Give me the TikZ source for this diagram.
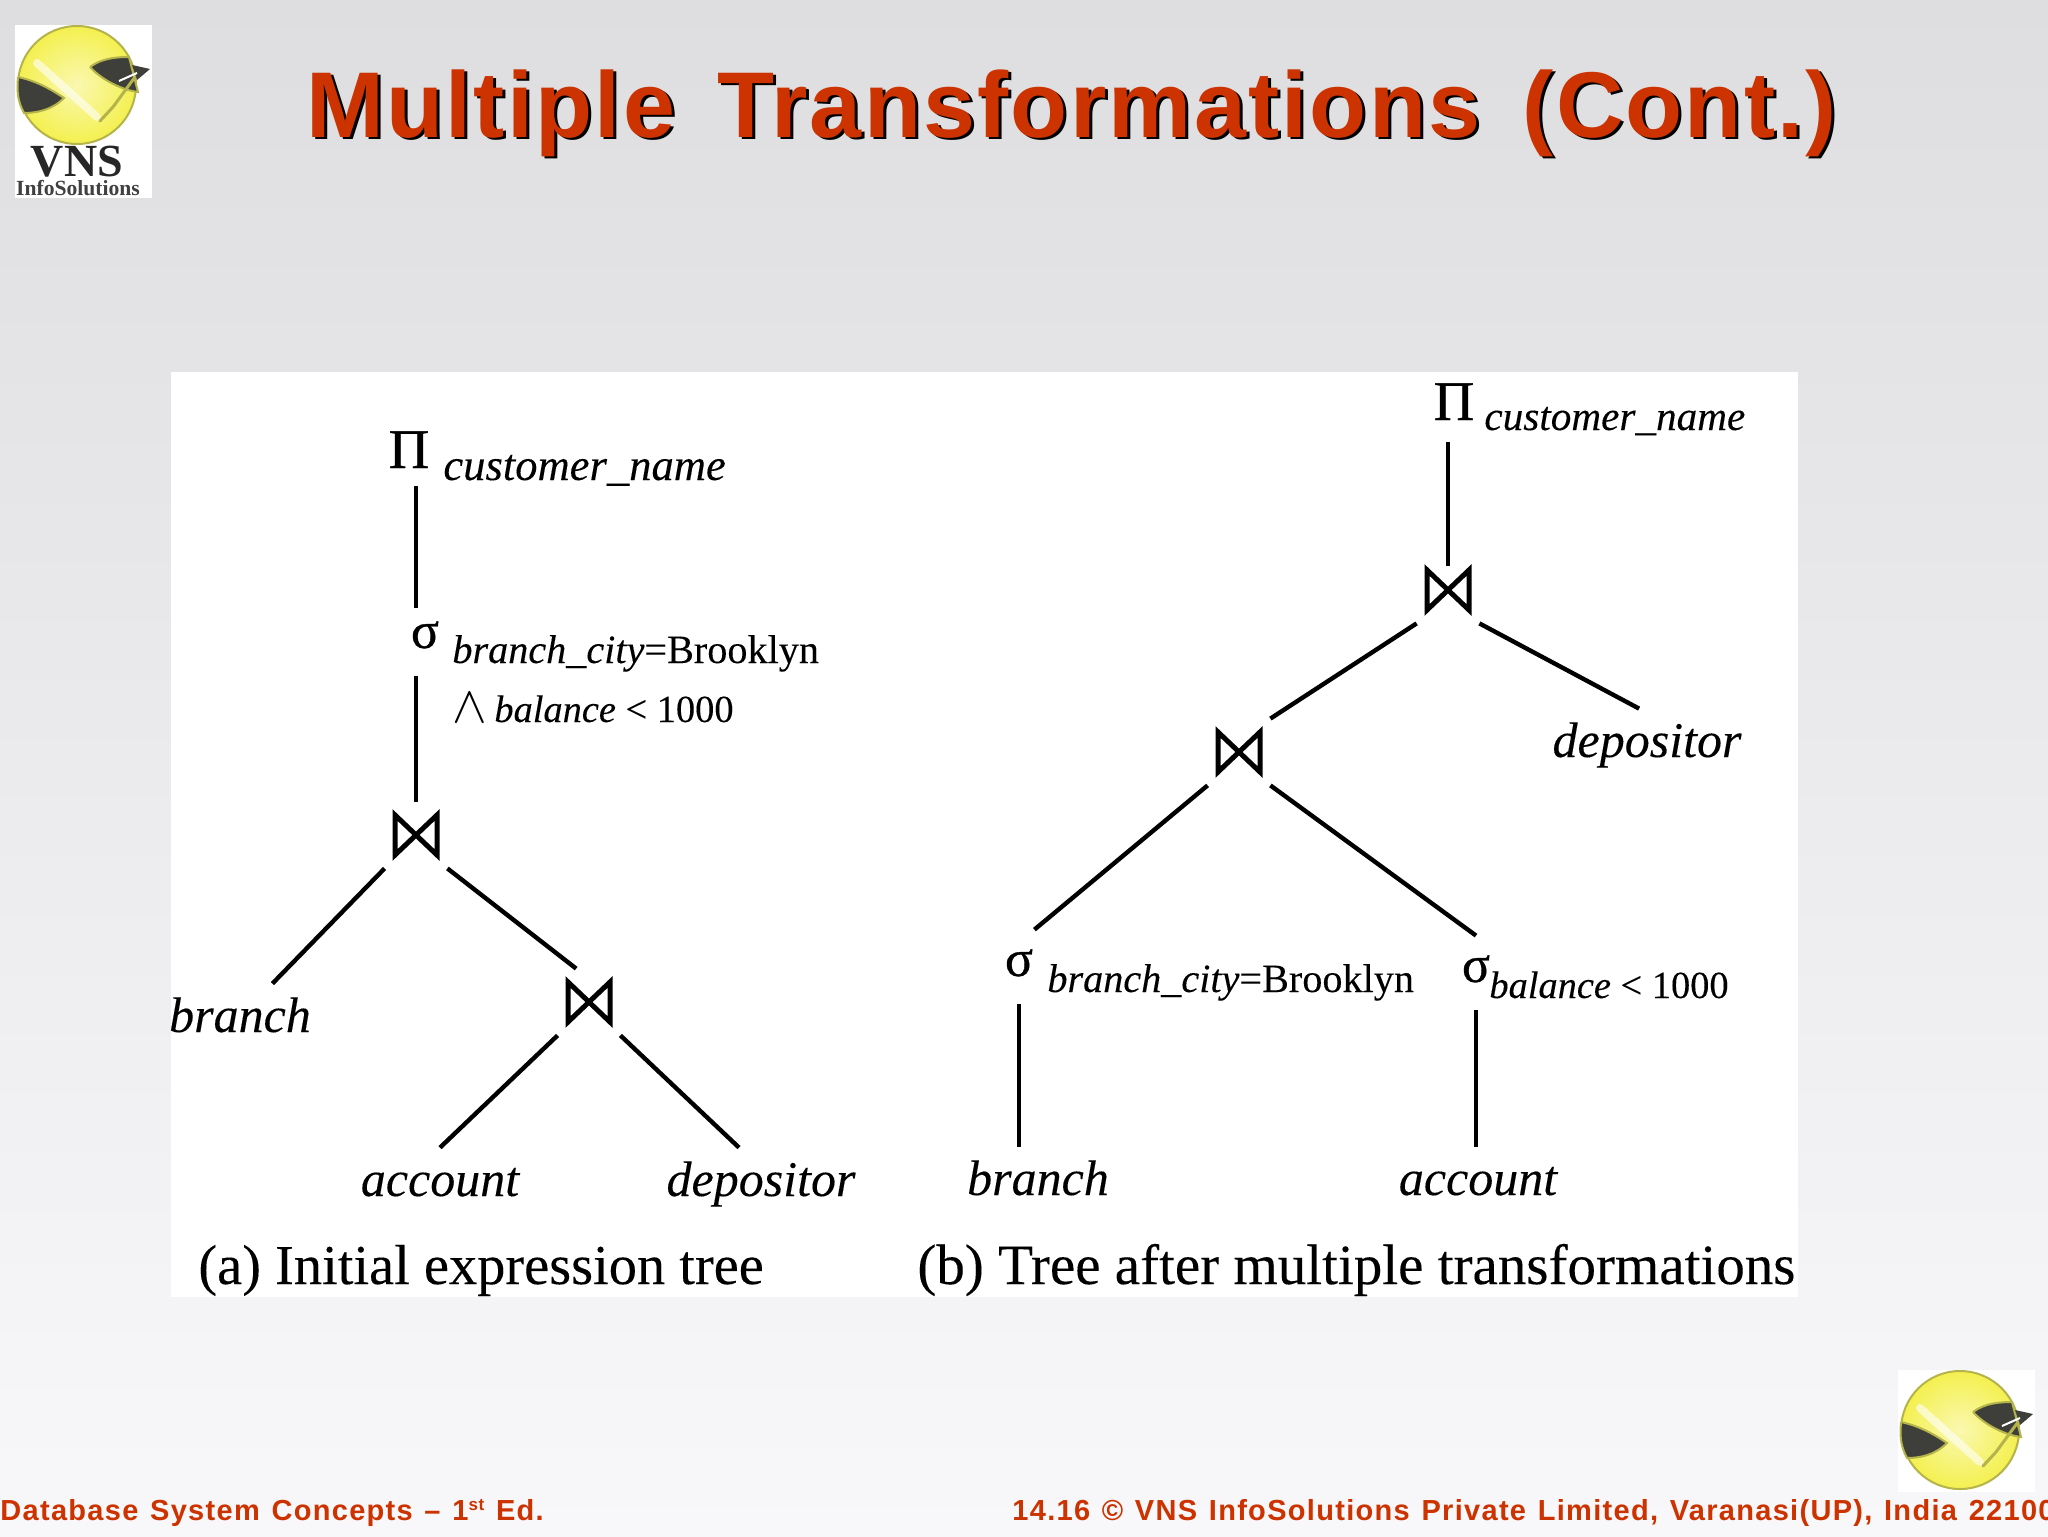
\documentclass[tikz,border=0pt]{standalone}
\usepackage{fix-cm}
\usepackage[no-math]{fontspec}
\usepackage{tikz}
\usetikzlibrary{calc}
\newfontfamily\labelfont{Liberation Serif}[FakeBold=0.15]
\newfontfamily\symbfont{Liberation Serif}
\newfontfamily\opfont{Liberation Serif}[FakeBold=0.6]
\newfontfamily\titlefont{Liberation Sans}[LetterSpace=2.4,WordSpace=1.5]
\newfontfamily\footfont{Liberation Sans}[LetterSpace=4.5,WordSpace=1.25]
\definecolor{slidered}{HTML}{CC3300}
\definecolor{slidetop}{HTML}{DEDEE0}
\definecolor{slidebottom}{HTML}{F8F8FA}
\definecolor{logoyellow}{HTML}{F4F050}
\definecolor{logodark}{HTML}{3E3E3A}
\definecolor{logoolive}{HTML}{B5B44A}
\tikzset{
  treeline/.style={line width=2.2pt},
  joinop/.style={inner sep=0pt,minimum width=31pt,minimum height=33pt,
    path picture={\draw[line width=2.5pt,shift={(path picture bounding box.center)}]
      (-21,-20)--(21,20)--(21,-20)--(-21,20)--cycle;}},
  piop/.style={anchor=base,inner sep=0pt,text height=18pt,text depth=9pt,
    font=\opfont\fontsize{28}{30}\selectfont},
  sigop/.style={anchor=base,inner sep=0pt,minimum width=15pt,text height=23pt,
    text depth=14pt,font=\opfont\fontsize{26}{30}\selectfont},
  relname/.style={anchor=base,inner sep=0pt,text height=24pt,text depth=0pt,
    font=\labelfont\itshape\fontsize{25}{30}\selectfont},
  attr/.style={anchor=base west,inner sep=0pt,font=\labelfont\fontsize{20.1}{24}\selectfont},
  caption/.style={anchor=base west,inner sep=0pt,font=\labelfont},
  footer/.style={anchor=base west,inner sep=0pt,text=slidered,
    font=\footfont\bfseries\fontsize{14.5}{17}\selectfont},
  vnsmark/.pic={
    \fill[white] (-62,-60) rectangle (75,62);
    \shade[inner color=logoyellow!45!white,outer color=logoyellow,draw=logoolive,line width=1pt]
      (0,0) circle [radius=59];
    \draw[white,opacity=.6,line width=4pt,line cap=round] (-40,-22) -- (20,32);
    \fill[logodark,draw=logoolive,line width=1pt] (-59,-8) .. controls (-40,-4) and (-25,5) .. (-13,13)
      .. controls (-25,25) and (-40,28) .. (-53,28) .. controls (-60,15) and (-60,5) .. (-59,-8);
    \fill[logodark,draw=logoolive,line width=1pt] (13,-18) .. controls (25,-27) and (40,-28) .. (52,-28)
      -- (61,7) .. controls (45,5) and (25,-5) .. (13,-18);
    \fill[logodark] (55,-20) -- (73,-16) -- (60,-5) -- cycle;
    \draw[white,line width=1pt] (42,-4) -- (60,-12);
    \draw[logoolive,line width=1.5pt,line cap=round] (23,36) -- (36,22) -- (58,-8);
  }
}
\begin{document}
\begin{tikzpicture}[x=0.5pt,y=-0.5pt]
\useasboundingbox (0,0) rectangle (2048,1536);
\shade[top color=slidetop,bottom color=slidebottom] (0,0) rectangle (2048,1536);
\fill[white] (171,372) rectangle (1798,1297);

\fill[white] (15,140) rectangle (152,198);
\pic at (77,85) {vnsmark};
\node[anchor=base,inner sep=0pt,font=\symbfont\bfseries\fontsize{23}{25}\selectfont,text=black!85] (vnsname) at (77,176) {VNS};
\node[anchor=base,inner sep=0pt,font=\symbfont\bfseries\fontsize{10.8}{12}\selectfont,text=black!75] (vnssub) at (78,195) {InfoSolutions};
\pic at (1960,1430) {vnsmark};

\node[anchor=base west,inner sep=0pt,font=\titlefont\bfseries\fontsize{46.7}{52}\selectfont] (titleshadow) at (309,140) {Multiple Transformations (Cont.)};
\node[anchor=base west,inner sep=0pt,text=slidered,font=\titlefont\bfseries\fontsize{46.7}{52}\selectfont] (title) at (306,137) {Multiple Transformations (Cont.)};

\node[footer] (footleft) at (0,1520) {Database System Concepts – 1\raisebox{5pt}{\fontsize{8.5}{9}\selectfont st} Ed.};
\node[footer] (footright) at (1012,1520) {14.16 © VNS InfoSolutions Private Limited, Varanasi(UP), India 22100};

\node[joinop] (joina) at (416,835) {};
\node[joinop] (joinb) at (589,1002) {};
\node[piop] (pia) at (409,468) {Π};
\node[sigop,text height=20pt] (siga) at (425,648) {σ};
\node[relname] (brancha) at (240,1032) {branch};
\node[relname] (accounta) at (440,1196) {account};
\node[relname] (depositora) at (761,1196) {depositor};
\node[attr,font=\labelfont\itshape\fontsize{22.3}{26}\selectfont] (namea) at (443,480) {customer\_name};
\node[attr] (citya) at (452,663) {\textit{branch\_city}=Brooklyn};
\node[attr,font=\labelfont\fontsize{19.2}{24}\selectfont] (bala) at (452,722) {\makebox[21pt][l]{\fontsize{26}{26}\selectfont$\wedge$}\textit{balance} < 1000};
\node[caption,font=\labelfont\fontsize{28.2}{34}\selectfont] (capa) at (198,1284) {(a) Initial expression tree};

\draw[treeline] (pia.south -| joina) -- (siga.north -| joina);
\draw[treeline] (siga.south -| joina) -- (joina.north);
\draw[treeline] (joina.south west) -- (brancha.37);
\draw[treeline] (joina.south east) -- (joinb.111);
\draw[treeline] (joinb.south west) -- (accounta.north);
\draw[treeline] (joinb.south east) -- (depositora.132);

\node[joinop] (joinc) at (1448,590) {};
\node[joinop] (joind) at (1239,752) {};
\node[piop] (pib) at (1454,420) {Π};
\node[sigop] (sigc) at (1019,976) {σ};
\node[sigop] (sigd) at (1476,982) {σ};
\node[relname] (depositorb) at (1647,757) {depositor};
\node[relname] (branchb) at (1038,1195) {branch};
\node[relname] (accountb) at (1478,1195) {account};
\node[attr,font=\labelfont\itshape\fontsize{20.6}{24}\selectfont] (nameb) at (1484,430) {customer\_name};
\node[attr] (cityb) at (1047,992) {\textit{branch\_city}=Brooklyn};
\node[attr,font=\labelfont\fontsize{19.2}{24}\selectfont] (balb) at (1489,998) {\textit{balance} < 1000};
\node[caption,font=\labelfont\fontsize{28.5}{32}\selectfont] (capb) at (917,1284) {(b) Tree after multiple transformations};

\draw[treeline,shorten <=2pt,shorten >=-4.5pt] (pib.south -| joinc) -- (joinc.north);
\draw[treeline] (joinc.south west) -- (joind.north east);
\draw[treeline] (joinc.south east) -- (depositorb.108);
\draw[treeline] (joind.south west) -- (sigc.north east);
\draw[treeline] (joind.south east) -- (sigd.north);
\draw[treeline] (sigc.south) -- (sigc.south |- branchb.north);
\draw[treeline] (sigd.south) -- (sigd.south |- accountb.north);
\end{tikzpicture}
\end{document}
